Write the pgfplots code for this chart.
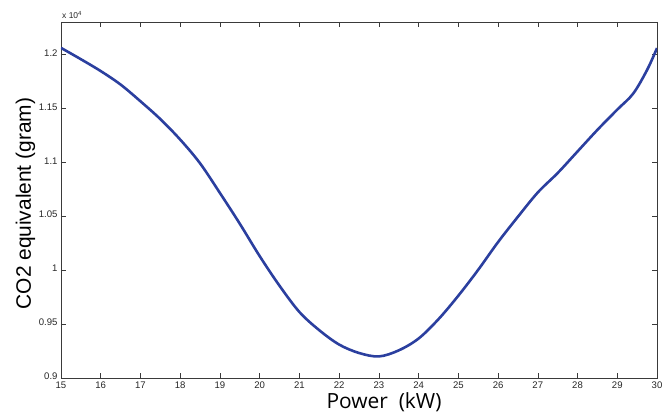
\documentclass[border=0pt]{standalone}
\usepackage{fontspec}
\setmainfont{Liberation Sans}
\newfontfamily\labelfont{Open Sans}
\usepackage{pgfplots}
\pgfplotsset{compat=1.18}
\definecolor{curveBlue}{HTML}{2B3F9F}
\definecolor{boxGray}{HTML}{3A3A3A}

\begin{document}
\begin{tikzpicture}
\begin{axis}[
    scale only axis,
    width=596bp, height=356bp,
    xmin=15, xmax=30, ymin=9000, ymax=12300,
    xtick={15,...,30},
    ytick={9000,9500,...,12000},
    yticklabels={0.9,0.95,1,1.05,1.1,1.15,1.2},
    scaled y ticks=false,
    tick align=inside,
    major tick length=5bp,
    tick style={boxGray, line width=0.6bp},
    axis line style={boxGray, line width=0.8bp},
    tick label style={font=\fontsize{9.6}{10}\selectfont, text=black!85},
    /pgf/number format/assume math mode=true,
    xticklabel style={yshift=-0.5bp},
    yticklabel style={xshift=0bp, yshift=1.5bp},
    xlabel={Power\ \ (kW)},
    xlabel style={font=\labelfont\fontsize{21}{24}\selectfont,
        at={(axis description cs:0.542,0)}, anchor=base, yshift=-30bp},
    ylabel={CO2 equivalent (gram)},
    ylabel style={font=\fontsize{21}{24}\selectfont,
        at={(axis description cs:0,0.49)}, anchor=base, yshift=30bp},
]
\addplot[curveBlue, line width=2.6bp, line join=round, smooth, tension=0.55] coordinates {
    (15.0,12060) (15.5,11955) (16.0,11845) (16.5,11720) (17.0,11565)
    (17.5,11400) (18.0,11210) (18.5,10990) (19.0,10715) (19.5,10430)
    (20.0,10130) (20.5,9855) (21.0,9612) (21.5,9443) (22.0,9310)
    (22.5,9232) (23.0,9200) (23.5,9256) (24.0,9366) (24.5,9545)
    (25.0,9763) (25.5,10003) (26.0,10260) (26.5,10495) (27.0,10720)
    (27.5,10900) (28.0,11100) (28.5,11300) (29.0,11488) (29.4,11636)
    (29.75,11855) (30.0,12058)
};
\coordinate (O) at (rel axis cs:0,0);
\coordinate (T) at (rel axis cs:0,1);
\end{axis}
\node[anchor=south west, font=\fontsize{8.5}{9}\selectfont, text=black!85,
    inner sep=0pt] at (T) [xshift=1bp, yshift=3bp]
    {x 10\textsuperscript{4}};
\pgfresetboundingbox
\path (O) ++(-61bp,-34bp) rectangle ++(670bp,412bp);
\end{tikzpicture}
\end{document}
